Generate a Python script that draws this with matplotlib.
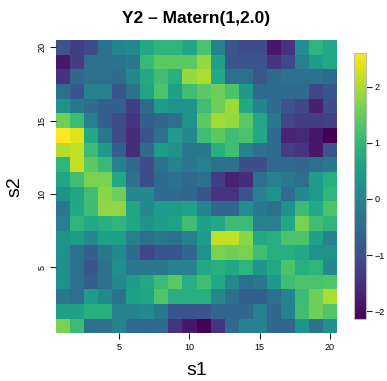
import numpy as np
import matplotlib
matplotlib.use("Agg")
import matplotlib.pyplot as plt
from matplotlib.lines import Line2D

plt.rcParams['font.family'] = ['Liberation Sans', 'DejaVu Sans']

s1 = list(range(1, 21))
s2 = list(range(1, 21))

# rows listed from s2 = 20 (top) down to s2 = 1 (bottom); columns s1 = 1..20
y2_rows_top_down = [
    [-0.9, -1.3, -1.05, -0.35, 0.0, 0.1, 0.7, 0.95, 0.95, 0.65, 1.25, -0.1, -0.9, -1.05, -1.05, -1.85, -1.45, 0.2, 0.95, 0.7],
    [-1.85, -1.3, -0.45, -0.35, -0.35, -0.25, 1.05, 1.4, 1.4, 1.4, 1.85, 0.55, -0.9, -0.9, -0.9, -1.4, -1.1, -0.1, 0.45, 0.7],
    [-1.45, -0.6, -0.35, -0.35, -0.5, 0.1, 0.7, 1.15, 0.85, 1.85, 2.0, 0.7, -0.4, -0.4, -0.85, -0.5, -0.35, -0.35, -0.35, -0.5],
    [-0.4, -0.9, -0.1, -0.1, -0.9, -0.35, 0.65, 1.25, 0.55, 1.15, 1.4, 1.55, 1.25, 0.4, -0.5, -0.5, -0.5, -0.5, -1.15, -0.9],
    [0.25, -0.25, -0.5, -0.7, -0.7, -1.3, -0.5, 0.45, 0.25, 0.25, 1.15, 1.55, 1.9, 0.7, 0.0, -0.5, -0.9, -1.15, -1.7, -1.0],
    [1.55, 1.1, -0.1, -0.7, -1.05, -1.4, -0.7, -0.6, -0.45, 0.25, 1.4, 1.95, 1.85, 1.4, 0.7, -0.25, -1.15, -1.3, -1.3, -1.25],
    [2.6, 2.35, 0.7, -0.25, -1.05, -1.55, -0.9, -0.35, 0.45, 0.1, 1.15, 1.4, 1.15, 1.25, 0.7, -0.5, -1.65, -1.6, -1.85, -2.14],
    [2.05, 2.15, 1.1, 0.4, -0.7, -1.55, -0.5, 0.45, 0.25, -0.25, -0.25, 0.85, 1.15, -0.05, -0.35, -0.5, -1.3, -1.4, -1.85, -0.9],
    [0.95, 2.15, 1.4, 1.05, -0.05, -0.55, -1.05, -0.35, 0.0, -0.25, -0.1, -0.4, -0.4, -1.0, -1.0, -0.55, -0.55, -0.6, -0.4, -0.25],
    [0.65, 1.15, 1.65, 1.65, 0.7, -0.35, -1.05, -0.5, -0.4, -0.55, -0.4, -1.3, -1.7, -1.55, -0.4, -0.05, -0.25, -0.4, 0.45, 0.85],
    [0.25, 0.65, 1.15, 1.75, 1.55, 0.1, 0.1, -0.5, -0.5, -0.6, -0.9, -1.4, -1.4, -0.9, -0.05, 0.25, -0.5, 0.1, 0.45, 0.95],
    [-0.25, 0.7, 1.1, 1.8, 1.8, 0.65, 0.1, 0.45, 0.45, 0.6, 0.0, -0.6, -0.6, 0.2, -0.25, -0.4, 0.25, 1.1, 0.7, 1.25],
    [-0.1, 0.95, 0.7, 0.85, 0.95, 0.65, 0.25, 0.45, 0.6, 1.15, 0.55, 0.7, 1.1, 1.1, -0.1, -0.1, 0.7, 1.65, 1.15, 0.95],
    [0.25, 0.45, 0.1, 0.55, 0.55, -0.1, -0.4, -0.25, -0.35, -0.1, 0.45, 2.15, 2.15, 1.75, 0.7, 0.85, 1.25, 1.25, 0.55, -0.05],
    [0.25, -0.35, -0.7, -0.25, 0.1, -0.5, -1.15, -0.9, -0.9, -0.6, 0.25, 1.65, 1.55, 1.65, 1.15, 0.85, 0.85, 0.7, 0.25, 0.25],
    [0.2, -0.35, -0.9, -0.35, 0.2, -0.25, -0.25, -0.25, -0.05, -0.05, 0.7, 0.85, 0.7, 0.95, 0.35, 0.7, 1.25, 0.85, 0.95, 0.1],
    [0.25, -0.35, -0.75, -0.35, 0.1, 0.45, 0.7, 1.1, 1.4, 0.85, 1.15, 0.7, 0.1, -0.4, -0.25, 0.4, 1.15, 1.25, 1.25, 1.3],
    [-0.25, -0.4, 0.45, 0.1, -0.35, 0.55, 0.65, 1.3, 0.85, 0.85, 0.85, 0.1, -0.4, -0.7, -0.7, -0.4, -0.05, 1.1, 1.55, 2.0],
    [0.55, 0.55, 0.85, 0.85, -0.05, -0.05, 0.1, -0.25, -0.9, -0.95, -0.9, -0.6, -0.6, -0.6, -0.1, -0.6, -0.05, 1.15, 1.55, 1.3],
    [1.65, 1.1, -0.4, -0.4, -0.05, -0.5, -0.55, -0.5, -1.4, -1.85, -2.14, -1.4, -0.5, -0.1, -0.1, -0.6, -0.6, 0.25, -0.35, 0.2],
]

x_ticks = [5, 10, 15, 20]
y_ticks = [5, 10, 15, 20]
cbar_ticks = [-2, -1, 0, 1, 2]

Z = np.array(y2_rows_top_down)[::-1]  # row index 0 -> s2 = 1

fig = plt.figure(figsize=(3.87, 3.81), dpi=100)
ax = fig.add_axes([56/387, 1-333.3/381, 281/387, 293.3/381])
xe = np.arange(0.5, 21, 1.0)
ye = np.arange(0.5, 21, 1.0)
vmin, vmax = Z.min(), Z.max()
mesh = ax.pcolormesh(xe, ye, Z, cmap="viridis", vmin=vmin, vmax=vmax, shading="flat")
ax.set_xlim(0.5, 20.5)
ax.set_ylim(0.5, 20.5)
for sp in ax.spines.values():
    sp.set_visible(False)
ax.set_xticks(x_ticks)
ax.set_yticks(y_ticks)
ax.tick_params(axis="both", length=4, width=0.8, labelsize=6.5, pad=3, color="#222222")
for lab in ax.get_yticklabels():
    lab.set_rotation(90)
    lab.set_va("center")
ax.set_xlabel("s1", fontsize=14, labelpad=7)
ax.set_ylabel("s2", fontsize=14, labelpad=10)
ax.set_title("Y2 \u2013 Matern(1,2.0)", fontsize=12.5, fontweight="bold", pad=12)

cax = fig.add_axes([354/387, 1-319/381, 12/387, 266/381])
cb = fig.colorbar(mesh, cax=cax, ticks=cbar_ticks)
cb.outline.set_edgecolor("#bbbbbb")
cb.outline.set_linewidth(0.8)
cax.tick_params(axis="y", length=4, width=0.8, labelsize=6.5, pad=2, color="#222222")
cax.set_yticklabels(["\u22122", "\u22121", "0", "1", "2"])
cax.add_line(Line2D([1.0, 1.0], [-2, 2], color="black", lw=0.8,
                    transform=cax.get_yaxis_transform(), clip_on=False))

fig.savefig("out.png", dpi=100)
